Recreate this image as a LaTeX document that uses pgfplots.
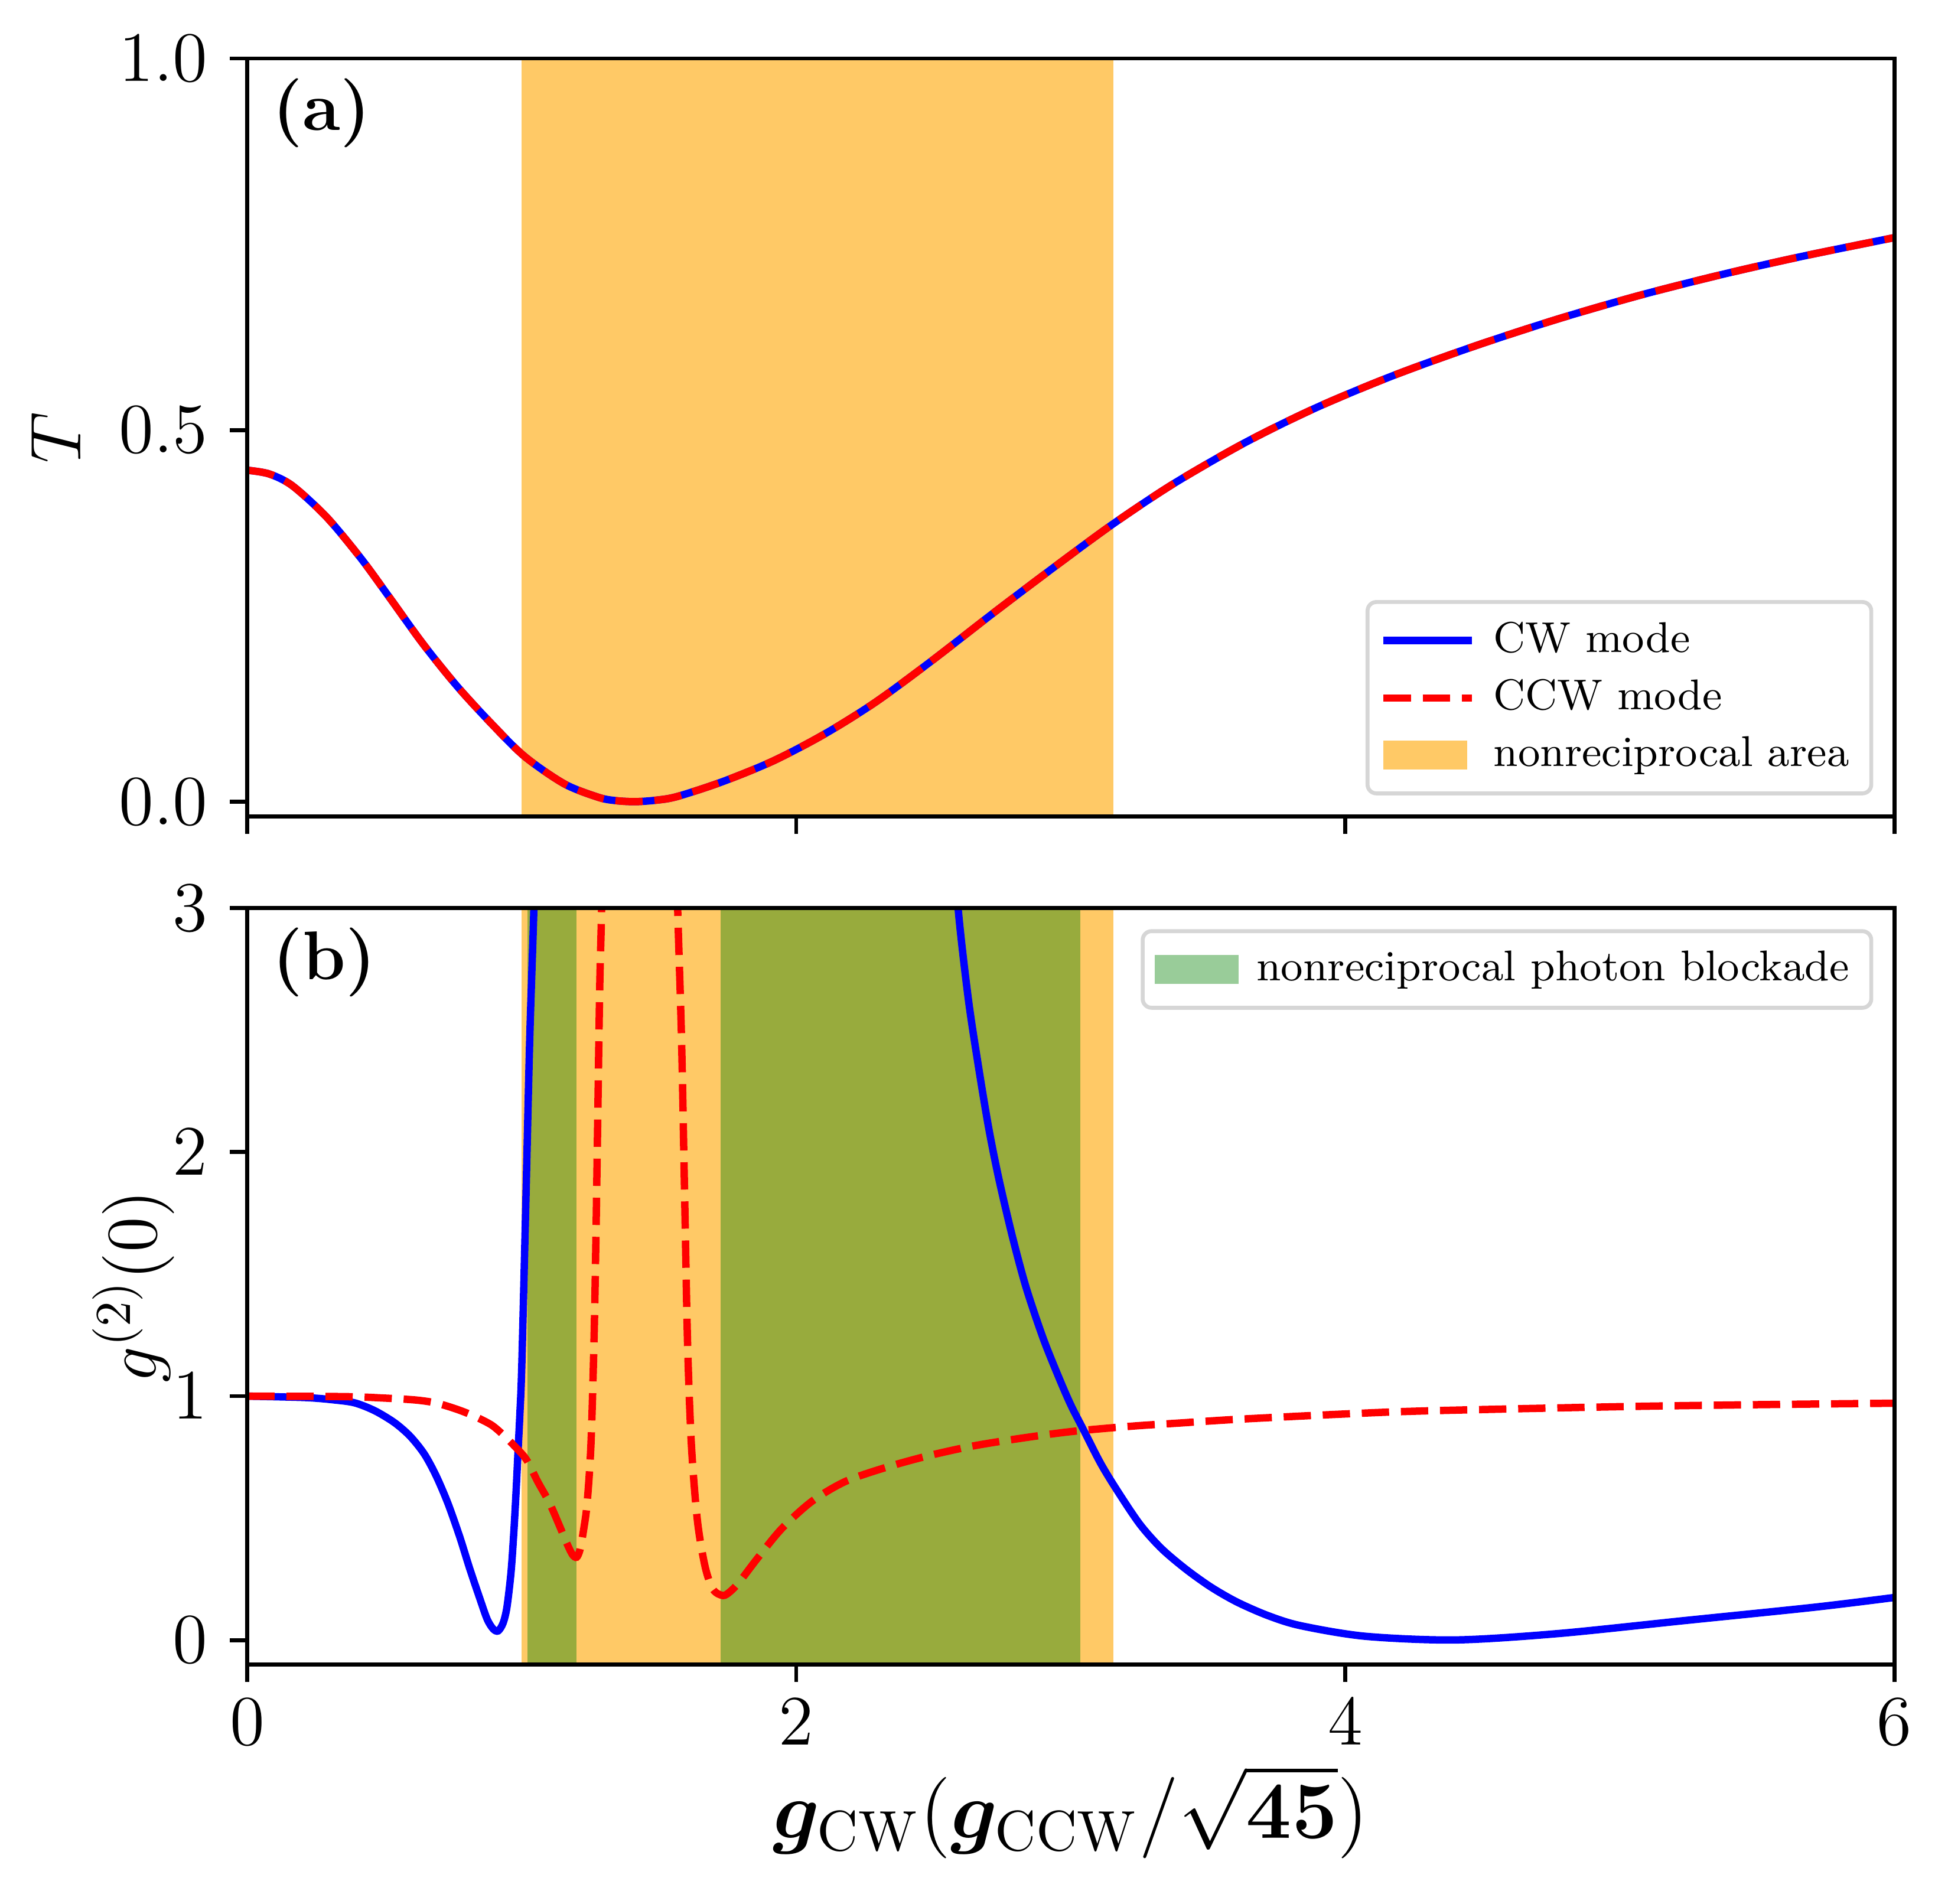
\RequirePackage{fix-cm}
\documentclass[border=0pt]{standalone}
\usepackage{bm}
\usepackage{pgfplots}
\usepackage{pgfplotstable}
\pgfplotsset{compat=1.18}

\definecolor{cwblue}{RGB}{0,0,255}
\definecolor{ccwred}{RGB}{255,0,0}
\definecolor{bandorange}{RGB}{255,165,0}
\definecolor{bandgreen}{RGB}{0,128,0}

% transmission, same for both modes
\pgfplotstableread{
x T
0.000 0.446
0.080 0.441
0.165 0.425
0.289 0.383
0.413 0.328
0.516 0.276
0.639 0.213
0.763 0.156
0.887 0.106
1.010 0.061
1.155 0.024
1.278 0.006
1.340 0.0015
1.412 0.000
1.490 0.002
1.567 0.007
1.732 0.027
1.917 0.055
2.103 0.091
2.289 0.134
2.495 0.190
2.722 0.255
2.948 0.318
3.155 0.374
3.375 0.428
3.634 0.483
3.893 0.530
4.172 0.573
4.471 0.613
4.770 0.649
5.069 0.681
5.368 0.709
5.667 0.734
6.000 0.759
}\transm

% g2(0), CW mode
\pgfplotstableread{
x g
0.000 1.000
0.213 0.994
0.321 0.984
0.393 0.972
0.465 0.940
0.537 0.891
0.594 0.835
0.645 0.763
0.688 0.674
0.731 0.561
0.774 0.424
0.810 0.295
0.846 0.175
0.874 0.086
0.896 0.046
0.914 0.038
0.932 0.070
0.946 0.135
0.961 0.279
0.971 0.440
0.979 0.601
0.986 0.763
0.993 0.923
1.000 1.120
1.015 1.800
1.029 2.460
1.044 2.990
1.052 3.400
2.566 3.400
2.590 2.993
2.627 2.625
2.664 2.348
2.701 2.098
2.738 1.890
2.787 1.655
2.837 1.446
2.899 1.238
2.957 1.075
3.000 0.964
3.044 0.867
3.110 0.722
3.176 0.601
3.253 0.473
3.330 0.376
3.418 0.292
3.510 0.218
3.606 0.156
3.720 0.100
3.839 0.059
4.073 0.016
4.400 0.001
4.774 0.027
5.241 0.081
5.708 0.135
6.000 0.175
}\gcw

% g2(0), CCW mode
\pgfplotstableread{
x g
0.000 1.000
0.356 0.998
0.500 0.992
0.615 0.984
0.687 0.972
0.759 0.948
0.823 0.920
0.888 0.883
0.931 0.843
0.974 0.795
1.017 0.740
1.058 0.650
1.100 0.565
1.137 0.470
1.165 0.395
1.185 0.350
1.200 0.340
1.212 0.370
1.225 0.450
1.238 0.560
1.252 0.800
1.263 1.217
1.270 1.633
1.277 2.153
1.284 2.673
1.291 3.000
1.296 3.400
1.562 3.400
1.568 3.000
1.582 2.465
1.593 1.841
1.604 1.217
1.618 0.800
1.640 0.489
1.668 0.301
1.697 0.208
1.733 0.183
1.760 0.200
1.793 0.239
1.859 0.336
1.947 0.457
2.057 0.569
2.178 0.650
2.321 0.706
2.475 0.754
2.640 0.795
2.816 0.827
3.003 0.855
3.223 0.877
3.399 0.890
3.606 0.905
4.000 0.927
4.307 0.940
5.007 0.957
5.500 0.965
6.000 0.971
}\gccw

\tikzset{
  plabel/.style={anchor=north west, inner sep=0pt,
    font=\fontsize{14}{17}\selectfont\bfseries},
}

\pgfplotsset{
  panel/.style={
    scale only axis, width=334.8pt,
    xmin=0, xmax=6, xtick={0,2,4,6},
    axis on top,
    tick align=outside, tick pos=left,
    major tick length=3.5pt,
    tick style={line width=0.8pt, black},
    axis line style={line width=0.8pt},
    tick label style={font=\fontsize{14.4}{17}\selectfont},
    yticklabel style={xshift=-1pt},
    ylabel style={font=\fontsize{14.6}{17}\selectfont, anchor=center},
    legend cell align=left,
    legend style={font=\fontsize{8.75}{10.5}\selectfont, draw=black!16,
      line width=0.8pt, rounded corners=1.8pt, fill=white,
      /tikz/column sep=1.6pt, inner xsep=2.5pt},
  },
  cw/.style={cwblue, line width=1.5pt, smooth,
    legend image code/.code={\draw[##1] (0pt,0pt) -- (18pt,0pt);}},
  ccw/.style={ccwred, line width=1.5pt, smooth, dash pattern=on 5.55pt off 2.4pt,
    legend image code/.code={\draw[##1] (0pt,0pt) -- (18pt,0pt);}},
}

\begin{document}
\begin{tikzpicture}
  \begin{axis}[panel, name=top, height=154.1pt,
    ymin=-0.02, ymax=1.0, ytick={0,0.5,1},
    xticklabels={},
    yticklabel style={/pgf/number format/.cd, fixed, fixed zerofill, precision=1},
    ylabel={$T$},
    ylabel style={at={(axis description cs:-0.116,0.5)}},
    legend style={at={(axis description cs:1,0)}, anchor=south east,
      xshift=-4.3pt, yshift=4.3pt},
  ]
    \addplot[draw=none, fill=bandorange, fill opacity=0.6, forget plot]
      coordinates {(1.0,-1) (1.0,2) (3.155,2) (3.155,-1)};
    \addplot[cw] table[x=x, y=T] {\transm};
    \addlegendentry{CW mode}
    \addplot[ccw] table[x=x, y=T] {\transm};
    \addlegendentry{CCW mode}
    \addlegendimage{legend image code/.code={
      \path[fill=bandorange, fill opacity=0.6, draw=none, sharp corners]
        (0pt,-2.9pt) rectangle (17pt,2.9pt);}}
    \addlegendentry{nonreciprocal area}
    \node[plabel] at (axis description cs:0,1) [xshift=5pt, yshift=-3.9pt] {(a)};
  \end{axis}

  \begin{axis}[panel, at={(0pt,-18.6pt)}, anchor=north west, height=153.8pt,
    ymin=-0.1, ymax=3, ytick={0,1,2,3},
    xlabel={$\bm{g}_{\mathrm{CW}}(\bm{g}_{\mathrm{CCW}}/\sqrt{\mathbf{45}})$},
    xlabel style={at={(axis description cs:0.5,-0.195)}, anchor=center,
      font=\fontsize{16.5}{20}\selectfont},
    ylabel={$g^{(2)}(0)$},
    ylabel style={at={(axis description cs:-0.069,0.5)}},
    legend style={at={(axis description cs:1,1)}, anchor=north east,
      xshift=-4.3pt, yshift=-4.3pt},
  ]
    \addplot[draw=none, fill=bandorange, fill opacity=0.6, forget plot]
      coordinates {(1.0,-1) (1.0,4) (3.155,4) (3.155,-1)};
    \addplot[draw=none, fill=bandgreen, fill opacity=0.4, forget plot]
      coordinates {(1.02,-1) (1.02,4) (1.20,4) (1.20,-1)};
    \addplot[draw=none, fill=bandgreen, fill opacity=0.4, forget plot]
      coordinates {(1.7235,-1) (1.7235,4) (3.034,4) (3.034,-1)};
    \addplot[cw, forget plot, restrict x to domain=0:1.06] table[x=x, y=g] {\gcw};
    \addplot[cw, forget plot, restrict x to domain=2.5:6] table[x=x, y=g] {\gcw};
    \addplot[ccw, forget plot, restrict x to domain=0:1.3] table[x=x, y=g] {\gccw};
    \addplot[ccw, forget plot, restrict x to domain=1.55:6] table[x=x, y=g] {\gccw};
    \addlegendimage{legend image code/.code={
      \path[fill=bandgreen, fill opacity=0.4, draw=none, sharp corners]
        (0pt,-2.9pt) rectangle (17pt,2.9pt);}}
    \addlegendentry{nonreciprocal photon blockade}
    \node[plabel] at (axis description cs:0,1) [xshift=5pt, yshift=-3.8pt] {(b)};
  \end{axis}

  \pgfresetboundingbox
  \useasboundingbox (-50.25pt,-221.0pt) rectangle (345.7pt,166.0pt);
\end{tikzpicture}
\end{document}
